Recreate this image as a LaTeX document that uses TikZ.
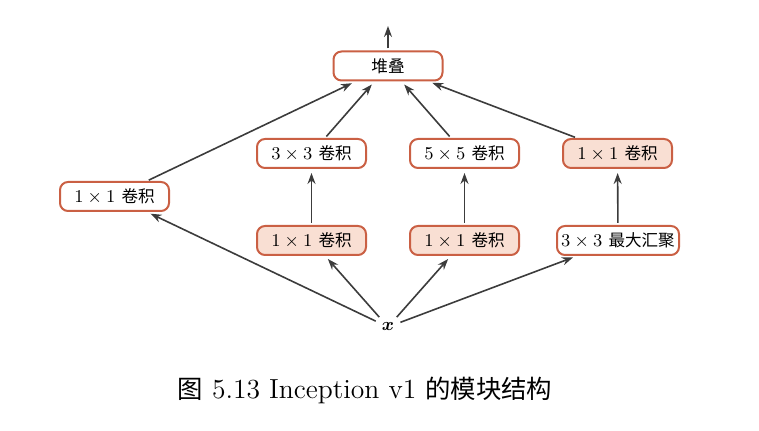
\documentclass[tikz,border=0pt]{standalone}
\usepackage{fontspec}
\usepackage{bm}
\newfontfamily\cjk[Scale=0.92]{Noto Sans CJK SC}
\usetikzlibrary{arrows.meta}
\definecolor{boxred}{RGB}{202,96,68}
\definecolor{boxfill}{RGB}{249,223,211}
\definecolor{linegray}{RGB}{60,60,60}
\begin{document}
\begin{tikzpicture}[x=25pt,y=25pt,
  blk/.style={draw=boxred, line width=1pt, rounded corners=4pt, minimum width=54.5pt,
    minimum height=14.5pt, inner sep=2pt, font=\fontsize{9}{10}\selectfont},
  blkf/.style={blk, fill=boxfill},
  arr/.style={draw=linegray, line width=0.8pt, -{Stealth[length=5.5pt,width=4pt]},
    shorten <=1pt, shorten >=2pt}]
  \useasboundingbox (0,0) rectangle (15.18,8.62);
  % top
  \node[blk] (stack) at (7.76,7.30) {\cjk 堆叠};
  \coordinate (out) at (7.76,8.18);
  % upper row
  \node[blk] (left) at (2.29,4.69) {$1\times1$ \cjk 卷积};
  \node[blk] (c3) at (6.23,5.55) {$3\times3$ \cjk 卷积};
  \node[blk] (c5) at (9.29,5.55) {$5\times5$ \cjk 卷积};
  \node[blkf] (c1b) at (12.35,5.55) {$1\times1$ \cjk 卷积};
  % lower row
  \node[blkf] (r3) at (6.23,3.81) {$1\times1$ \cjk 卷积};
  \node[blkf] (r5) at (9.29,3.81) {$1\times1$ \cjk 卷积};
  \node[blk, minimum width=61pt] (pool) at (12.36,3.81) {$3\times3$ \cjk 最大汇聚};
  % input
  \node[font=\fontsize{9}{10}\selectfont, inner sep=2pt] (x) at (7.76,2.08) {$\bm{x}$};
  % connectors
  \draw[arr] (stack) -- (out);
  \draw[arr] (left) -- (stack);
  \draw[arr] (c3) -- (stack);
  \draw[arr] (c5) -- (stack);
  \draw[arr] (c1b) -- (stack);
  \draw[arr] (r3) -- (c3);
  \draw[arr] (r5) -- (c5);
  \draw[arr] (pool) -- (c1b);
  \draw[arr] (x) -- (left);
  \draw[arr] (x) -- (r3);
  \draw[arr] (x) -- (r5);
  \draw[arr] (x) -- (pool);
  % caption
  \node[font=\fontsize{13.8}{16}\selectfont] (cap) at (7.30,0.82)
    {{\cjk 图} 5.13 Inception v1 {\cjk 的模块结构}};
\end{tikzpicture}
\end{document}
